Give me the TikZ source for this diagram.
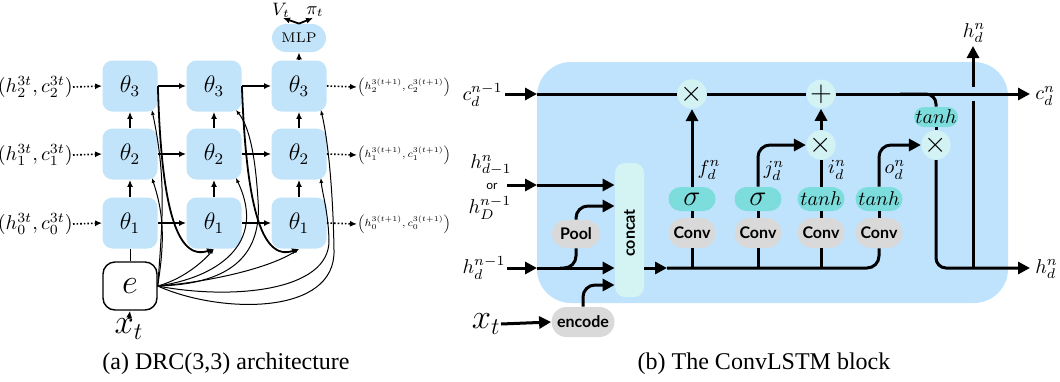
\documentclass[tikz,border=0pt]{standalone}
\usepackage{amsmath}
\usepackage{fontspec}
\newfontfamily\capfont{Liberation Serif}
\newfontfamily\latofont{Lato}
\usetikzlibrary{arrows.meta,calc}
\definecolor{thb}{HTML}{C2E4FA}
\definecolor{blk}{HTML}{BFE3FC}
\definecolor{gatec}{HTML}{7DDCDC}
\definecolor{opc}{HTML}{D2F2F3}
\definecolor{concc}{HTML}{D4F4F4}
\definecolor{gry}{HTML}{D9D9D9}
\newcommand{\outtxt}[1]{\scalebox{0.74}{$\left(h_{#1}^{3(t+1)},c_{#1}^{3(t+1)}\right)$}}
\begin{document}
\begin{tikzpicture}[x=0.5pt,y=0.5pt,
  theta/.style={rectangle,rounded corners=5pt,fill=thb,minimum width=27.5pt,minimum height=25.5pt,inner sep=0pt,font=\large},
  ebox/.style={rectangle,draw,line width=0.7pt,rounded corners=6pt,fill=white,minimum width=27pt,minimum height=24pt,inner sep=0pt,font=\LARGE},
  mlpbox/.style={rectangle,rounded corners=7pt,fill=thb,minimum width=27pt,minimum height=14pt,inner sep=0pt,font=\scriptsize},
  inlab/.style={anchor=east,inner sep=0pt,font=\normalsize},
  outlab/.style={anchor=west,inner sep=0pt,font=\scriptsize},
  larr/.style={line width=0.9pt,-{Latex[length=3.5pt,width=3pt]}},
  darr/.style={line width=0.8pt,densely dotted,-{Latex[length=3.5pt,width=3pt]}},
  carr/.style={line width=0.5pt,-{Latex[length=2.5pt,width=2pt]}},
  skarr/.style={line width=0.9pt,-{Latex[length=3.5pt,width=3pt]}},
  rline/.style={line width=1.5pt},
  rarr/.style={line width=1.5pt,-{Triangle[length=6pt,width=6pt]}},
  opnode/.style={circle,fill=opc,minimum size=10.5pt,inner sep=0pt,font=\Large},
  gatebox/.style={rectangle,rounded corners=6pt,fill=gatec,minimum width=23.5pt,minimum height=12pt,inner sep=0pt},
  greybox/.style={rectangle,rounded corners=7.5pt,fill=gry,minimum height=15pt,inner sep=0pt,font=\latofont\bfseries\fontsize{8}{9}\selectfont},
  mlab/.style={inner sep=0pt,font=\normalsize},
]
\useasboundingbox (0,0) rectangle (1060,-381);

% ================= (a) DRC =================
\foreach \c/\x in {1/130,2/214,3/299}{
  \node[theta] (t1\c) at (\x,-223) {$\theta_1$};
  \node[theta] (t2\c) at (\x,-154) {$\theta_2$};
  \node[theta] (t3\c) at (\x,-86) {$\theta_3$};
}
\node[ebox] (e) at (130,-286) {$e$};
\node[inner sep=0pt,font=\LARGE] (xt) at (129,-329) {$x_t$};
\node[mlpbox] (mlp) at (299,-38) {MLP};
\node[inner sep=0pt,font=\small] (vt) at (281,-10) {$V_t$};
\node[inner sep=0pt,font=\small] (pt) at (315,-12) {$\pi_t$};
\coordinate (vtip) at (283,-18);
\coordinate (ptip) at (313,-18);

\node[inlab] (l3) at (73,-87) {$(h_2^{3t},c_2^{3t})$};
\node[inlab] (l2) at (73,-155) {$(h_1^{3t},c_1^{3t})$};
\node[inlab] (l1) at (73,-224) {$(h_0^{3t},c_0^{3t})$};
\node[outlab] (o3) at (357,-87) {\outtxt{2}};
\node[outlab] (o2) at (357,-155) {\outtxt{1}};
\node[outlab] (o1) at (357,-224) {\outtxt{0}};

\foreach \r in {1,2,3}{
  \draw[darr] (l\r.east) -- (t\r1.west);
  \draw[darr] (t\r3.east) -- (o\r.west);
  \draw[larr] (t\r1.east) -- (t\r2.west);
  \draw[larr] (t\r2.east) -- (t\r3.west);
}
\foreach \c in {1,2,3}{
  \draw[larr] (t1\c.north) -- (t2\c.south);
  \draw[larr] (t2\c.north) -- (t3\c.south);
}
\draw[larr] (t33.north) -- (mlp.south);
\draw[larr] (mlp.north) -- (vtip);
\draw[larr] (mlp.north) -- (ptip);
\draw[line width=0.5pt] (e.north) -- (t11.south);
\draw[larr] (xt.north) -- (e.south);

% corner targets
\foreach \r in {2,3}{\foreach \c in {1,2,3}{
  \coordinate (s\r\c) at ([xshift=-3pt,yshift=1pt]t\r\c.south east);
}}
% skip connections
\draw[skarr] (t31.east) .. controls (161,-200) and (175,-262) .. (t12.south);
\draw[skarr] (t32.east) .. controls (246,-200) and (260,-262) .. (t13.south);
% encoder fan-out
\draw[carr] (e.east) .. controls (164,-245) and (165,-217) .. (s21);
\draw[carr] (e.east) .. controls (163,-217) and (166,-176) .. (s31);
\draw[carr] (e.east) .. controls (180,-280) and (200,-265) .. (t12.south);
\draw[carr] (e.east) .. controls (215,-278) and (268,-245) .. (s22);
\draw[carr] (e.east) .. controls (235,-284) and (262,-252) .. (258,-200) .. controls (255,-150) and (248,-125) .. (s32);
\draw[carr] (e.east) .. controls (210,-282) and (270,-268) .. (t13.south);
\draw[carr] (e.east) .. controls (230,-300) and (330,-292) .. (329,-240) .. controls (328,-210) and (322,-192) .. (s23);
\draw[carr] (e.east) .. controls (220,-314) and (336,-316) .. (334,-250) .. controls (333,-190) and (328,-140) .. (s33);

\node[font=\capfont\fontsize{12}{14}\selectfont] (capa) at (226,-364) {(a) DRC(3,3) architecture};

% ================= (b) ConvLSTM =================
\path[fill=blk,rounded corners=17pt] (537,-62) rectangle (1008,-303);

\node[opnode] (xf) at (692,-94) {$\times$};
\node[opnode] (plus) at (821,-94) {$+$};
\node[opnode] (xi) at (821,-145) {$\times$};
\node[opnode] (xo) at (936,-145) {$\times$};
\node[gatebox,minimum width=22pt,minimum height=10pt,rounded corners=5pt,font=\normalsize] (tc) at (936,-117) {$tanh$};

\node[gatebox,font=\Large] (g1) at (692,-199) {$\sigma$};
\node[gatebox,font=\Large] (g2) at (758,-199) {$\sigma$};
\node[gatebox,font=\normalsize] (g3) at (821,-199) {$tanh$};
\node[gatebox,font=\normalsize] (g4) at (879,-199) {$tanh$};
\foreach \i/\x in {1/692,2/758,3/821,4/879}{
  \node[greybox,minimum width=23.5pt] (cv\i) at (\x,-233) {Conv};
}
\node[greybox,minimum width=24pt,minimum height=14pt,rounded corners=7pt] (pool) at (576,-234) {Pool};
\node[greybox,minimum width=31.5pt] (enc) at (583,-322) {encode};
\node[rectangle,rounded corners=5pt,fill=concc,minimum width=14.5pt,minimum height=67pt,inner sep=0pt] (cc) at (629.5,-230) {};
\node[rotate=90,inner sep=0pt,font=\latofont\bfseries\fontsize{8}{9}\selectfont] (cctext) at (629.5,-233) {concat};

% labels
\node[mlab,anchor=east] (cin) at (503,-95) {$c_d^{n-1}$};
\node[mlab] (hin1) at (491,-165) {$h_{d-1}^{n}$};
\node[inner sep=0pt,font=\latofont\fontsize{6}{7}\selectfont] (orl) at (492,-186) {or};
\node[mlab] (hin2) at (490,-208) {$h_{D}^{n-1}$};
\node[mlab,anchor=east] (hdn) at (506,-268) {$h_d^{n-1}$};
\node[inner sep=0pt,font=\LARGE,anchor=east] (xt2) at (501,-324) {$x_t$};
\node[mlab,anchor=west] (cout) at (1035,-96) {$c_d^{n}$};
\node[mlab,anchor=west] (hout) at (1035,-269) {$h_d^{n}$};
\node[mlab] (htop) at (974,-33) {$h_d^{n}$};
\node[mlab] (lf) at (709,-170) {$f_d^{n}$};
\node[mlab] (lj) at (774,-171) {$j_d^{n}$};
\node[mlab] (li) at (837,-170) {$i_d^{n}$};
\node[mlab] (lo) at (895,-170) {$o_d^{n}$};

% coordinates
\coordinate (cw) at (537,-94);
\coordinate (ce) at (1030,-94);
\coordinate (hstart) at (507,-185);
\coordinate (hw1) at (537,-185);
\coordinate (dstart) at (507,-268);
\coordinate (hw2) at (537,-268);
\coordinate (hbr) at (560,-268);
\coordinate (cstart) at (505,-94);
\coordinate (ccout) at (667,-268);
\coordinate (hx) at (973,-268);
\coordinate (hgapb) at (973,-101);
\coordinate (hgapt) at (973,-87);
\coordinate (htip) at (973,-46);
\coordinate (hoe) at (1030,-268);
\coordinate (tbr) at (900,-94);

% h vertical (with gap at c line)
\draw[rline] (hx) -- (hgapb);
\draw[rarr] (hgapt) -- (htip);
% c line
\draw[rarr] (cstart) -- (cw);
\draw[rline] (cw) -- (xf);
\draw[rline] (xf) -- (plus);
\draw[rarr] (plus) -- (ce);
\draw[rline,rounded corners=5pt] (tbr) -| (tc.north);
\draw[rline] (tc.south) -- (xo.north);
\draw[rarr,rounded corners=5pt] (xo.south) |- (hoe);
% inputs
\draw[rarr] (hstart) -- (hw1);
\draw[rarr] (hw1) -- (hw1 -| cc.west);
\draw[rarr] (dstart) -- (hw2);
\draw[rarr] (hw2) -- (hw2 -| cc.west);
\draw[rline,rounded corners=6pt] (hbr) -| (pool.south);
\draw[rarr,rounded corners=6pt] (pool.north) |- (cc.west |- 0,-206);
\draw[rarr,rounded corners=6pt] (enc.north) |- (cc.west |- 0,-285);
\draw[rarr] (xt2.east) -- (enc.west);
% gates
\draw[rarr] (cc.east |- ccout) -- (ccout);
\draw[rline,rounded corners=6pt] (ccout) -| (cv4.south);
\foreach \i in {1,2,3}{\draw[rline] (cv\i.south |- ccout) -- (cv\i.south);}
\foreach \i in {1,2,3,4}{\draw[rline] (cv\i.north) -- (g\i.south);}
\draw[rarr] (g1.north) -- (xf.south);
\draw[rarr,rounded corners=6pt] (g2.north) |- (xi.west);
\draw[rline] (g3.north) -- (xi.south);
\draw[rarr] (xi.north) -- (plus.south);
\draw[rarr,rounded corners=6pt] (g4.north) |- (xo.west);

\node[font=\capfont\fontsize{12}{14}\selectfont] (capb) at (764,-364) {(b) The ConvLSTM block};
\end{tikzpicture}
\end{document}
